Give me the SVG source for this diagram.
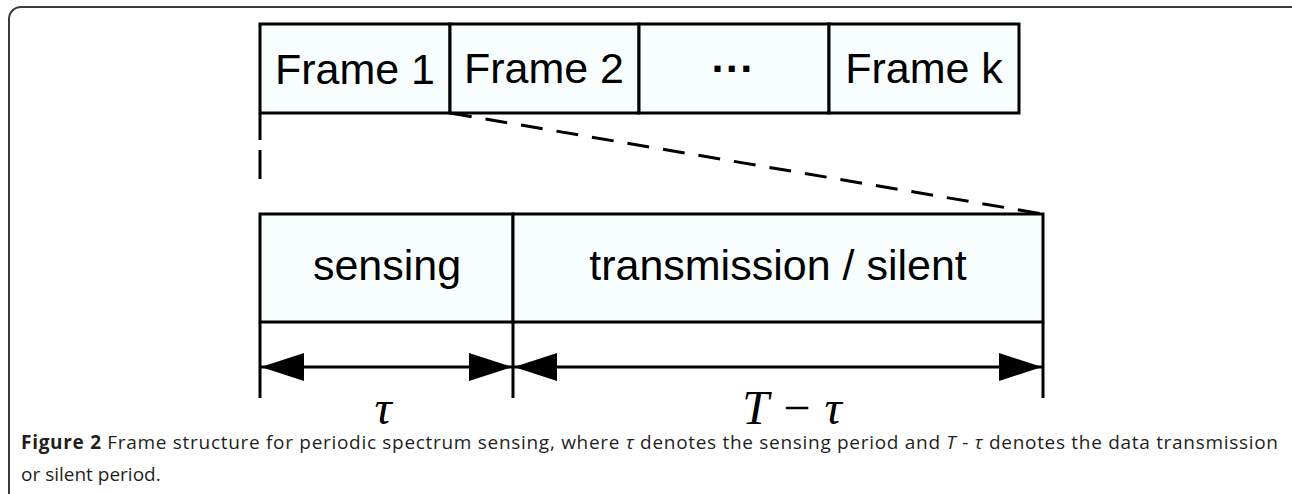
<svg xmlns="http://www.w3.org/2000/svg" width="1292" height="494" viewBox="0 0 1292 494">
<style>
.box{fill:#f8fdfe;stroke:#000;stroke-width:3}
.lbl{font-family:"Liberation Sans",Arial,sans-serif;font-size:43px;fill:#000;text-anchor:middle}
.math{font-family:"Liberation Serif","Times New Roman",serif;font-style:italic;font-size:48px;fill:#000;text-anchor:middle}
.ln{stroke:#000;stroke-width:3;fill:none}
.dash{stroke:#000;stroke-width:3;fill:none;stroke-dasharray:22 14}
.cap{font-family:"Open Sans","DejaVu Sans",sans-serif;font-size:19px;fill:#231f20}
</style>
<defs>
<marker id="ah" viewBox="0 0 43 28" refX="43" refY="14" markerWidth="43" markerHeight="28" markerUnits="userSpaceOnUse" orient="auto-start-reverse">
<path d="M0,0 L43,14 L0,28 Z" fill="#000"/>
</marker>
</defs>
<rect x="9" y="7" width="1296" height="500" rx="12" fill="none" stroke="#3a3a3a" stroke-width="2"/>
<g id="frame1"><rect class="box" x="260" y="24" width="190" height="89"/><text class="lbl" x="355" y="84">Frame 1</text></g>
<g id="frame2"><rect class="box" x="450" y="24" width="189" height="89"/><text class="lbl" x="544" y="83">Frame 2</text></g>
<g id="frame-dots"><rect class="box" x="639" y="24" width="190" height="89"/><text class="lbl" x="733" y="83" font-weight="bold">···</text></g>
<g id="framek"><rect class="box" x="829" y="24" width="190" height="89"/><text class="lbl" x="924" y="83">Frame k</text></g>
<g id="sensing"><rect class="box" x="260" y="214" width="253" height="108"/><text class="lbl" x="387" y="280">sensing</text></g>
<g id="transmission"><rect class="box" x="513" y="214" width="530" height="108"/><text class="lbl" x="778" y="280">transmission / silent</text></g>
<g id="connectors">
<line class="ln" x1="260" y1="113" x2="260" y2="140" />
<line class="ln" x1="260" y1="150" x2="260" y2="179" />
<line class="dash" x1="450" y1="113" x2="1043" y2="214"/>
<line class="ln" x1="260" y1="322" x2="260" y2="398"/>
<line class="ln" x1="513" y1="322" x2="513" y2="398"/>
<line class="ln" x1="1043" y1="322" x2="1043" y2="398"/>
<line class="ln" x1="261" y1="367" x2="512" y2="367" marker-start="url(#ah)" marker-end="url(#ah)"/>
<line class="ln" x1="514" y1="367" x2="1042" y2="367" marker-start="url(#ah)" marker-end="url(#ah)"/>
</g>
<g id="dim-labels">
<text class="math" x="383" y="424">τ</text>
<text class="math" x="792" y="424">T − τ</text>
</g>
<g id="caption">
<text class="cap" x="21" y="449" textLength="1257" lengthAdjust="spacing"><tspan font-weight="bold">Figure 2</tspan> Frame structure for periodic spectrum sensing, where <tspan font-style="italic">τ</tspan> denotes the sensing period and <tspan font-style="italic">T</tspan> - <tspan font-style="italic">τ</tspan> denotes the data transmission</text>
<text class="cap" x="21" y="481">or silent period.</text>
</g>
</svg>
